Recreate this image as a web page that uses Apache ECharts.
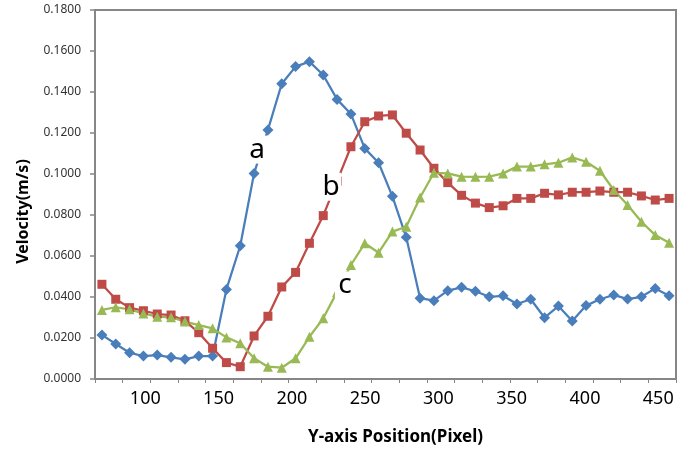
<!DOCTYPE html>
<html>
<head>
<meta charset="utf-8">
<title>Velocity profile</title>
<script src="https://cdn.jsdelivr.net/npm/echarts@6.0.0/dist/echarts.min.js"></script>
<style>
  html, body { margin: 0; padding: 0; background: #fff; }
  #chart { width: 687px; height: 455px; }
</style>
</head>
<body>
<div id="chart"></div>
<script>
// Y-axis positions (pixel) of the sampled points
const positions = [70, 80, 89, 99, 108, 118, 127, 136, 146, 155, 165, 174, 184, 193,
  202, 212, 221, 231, 240, 250, 259, 269, 278, 287, 297, 306, 316, 325,
  335, 344, 353, 363, 372, 382, 391, 401, 410, 419, 429, 438, 448, 457];

// velocity (m/s)
const seriesA = [0.0215, 0.0171, 0.0128, 0.0112, 0.0117, 0.0106, 0.0096, 0.0112, 0.0112, 0.0437,
  0.0650, 0.1003, 0.1215, 0.1440, 0.1524, 0.1548, 0.1483, 0.1364, 0.1293, 0.1125,
  0.1055, 0.0891, 0.0691, 0.0394, 0.0382, 0.0431, 0.0447, 0.0428, 0.0401, 0.0406,
  0.0366, 0.0389, 0.0299, 0.0356, 0.0283, 0.0358, 0.0389, 0.0410, 0.0390, 0.0401,
  0.0442, 0.0406];
const seriesB = [0.0462, 0.0389, 0.0348, 0.0333, 0.0317, 0.0312, 0.0284, 0.0226, 0.0150, 0.0080,
  0.0060, 0.0210, 0.0306, 0.0449, 0.0520, 0.0662, 0.0797, 0.0965, 0.1133, 0.1255,
  0.1283, 0.1288, 0.1199, 0.1117, 0.1028, 0.0958, 0.0896, 0.0858, 0.0836, 0.0845,
  0.0881, 0.0881, 0.0906, 0.0898, 0.0911, 0.0911, 0.0917, 0.0911, 0.0911, 0.0893,
  0.0873, 0.0881];
const seriesC = [0.0337, 0.0350, 0.0340, 0.0320, 0.0304, 0.0301, 0.0280, 0.0263, 0.0247, 0.0203,
  0.0174, 0.0101, 0.0060, 0.0055, 0.0101, 0.0206, 0.0296, 0.0425, 0.0556, 0.0662,
  0.0616, 0.0719, 0.0743, 0.0885, 0.1006, 0.1003, 0.0987, 0.0986, 0.0987, 0.1003,
  0.1036, 0.1036, 0.1047, 0.1055, 0.1081, 0.1060, 0.1016, 0.0922, 0.0849, 0.0767,
  0.0702, 0.0665];

// x tick labels shown under the axis
const xTickLabels = [100, 150, 200, 250, 300, 350, 400, 450];

const axisGray = '#868686';
const font = '"Noto Sans", "DejaVu Sans", sans-serif';

// letter tag drawn on a white box over a line
function tag(text, index, value, dx) {
  return {
    symbol: 'rect',
    symbolSize: [20, 28],
    silent: true,
    data: [{ coord: [index, value], symbolOffset: [dx, 0] }],
    itemStyle: { color: '#fff' },
    label: {
      show: true, position: 'inside', formatter: text,
      color: '#000', fontSize: 28, fontFamily: font
    }
  };
}

function makeSeries(name, data, color, symbol, size, mark) {
  return {
    name: name,
    type: 'line',
    data: data,
    xAxisIndex: 0,
    symbol: symbol,
    symbolSize: size,
    showAllSymbol: true,
    lineStyle: { color: color, width: 2.25 },
    itemStyle: { color: color },
    markPoint: mark,
    animation: false
  };
}

const chart = echarts.init(document.getElementById('chart'));
chart.setOption({
  animation: false,
  grid: {
    left: 95, right: 11, top: 10, bottom: 76,
    show: true, borderColor: axisGray, borderWidth: 2
  },
  xAxis: [{
    type: 'category',
    data: positions,
    boundaryGap: true,
    axisLine: { lineStyle: { color: axisGray, width: 2 } },
    axisTick: { show: true, length: 4, lineStyle: { color: axisGray, width: 1 } },
    axisLabel: { show: false },
    splitLine: { show: false }
  }, {
    type: 'value',
    position: 'bottom',
    min: 65.7,
    max: 462.1,
    splitNumber: 8,
    axisLine: { show: false },
    axisTick: { show: false },
    splitLine: { show: false },
    axisLabel: {
      margin: 11,
      color: '#000', fontSize: 18, fontFamily: font,
      formatter: v => xTickLabels.indexOf(Math.round(v)) >= 0 && Math.abs(v - Math.round(v)) < 1e-6 ? String(Math.round(v)) : ''
    },
    name: 'Y-axis Position(Pixel)',
    nameLocation: 'middle',
    nameGap: 50,
    nameTextStyle: { color: '#000', fontSize: 17, fontWeight: 'bold', fontFamily: font, padding: [0, 0, 0, 20] }
  }],
  yAxis: {
    type: 'value',
    min: 0,
    max: 0.18,
    interval: 0.02,
    axisLine: { show: true, lineStyle: { color: axisGray, width: 2 } },
    axisTick: { show: true, length: 5, lineStyle: { color: axisGray, width: 1.5 } },
    splitLine: { show: false },
    axisLabel: {
      margin: 14, color: '#333', fontSize: 12, fontFamily: font,
      formatter: v => v.toFixed(4)
    },
    name: 'Velocity(m/s)',
    nameLocation: 'middle',
    nameGap: 64,
    nameTextStyle: { color: '#000', fontSize: 16, fontWeight: 'bold', fontFamily: font, padding: [0, 34, 0, 0] }
  },
  series: [
    makeSeries('a', seriesA, '#4a7ebb', 'diamond', 11, tag('a', 11, 0.1119, 3)),
    makeSeries('b', seriesB, '#be4b48', 'rect', 9, tag('b', 17, 0.0938, -6)),
    makeSeries('c', seriesC, '#98b954', 'triangle', 10, tag('c', 18, 0.0456, -6))
  ]
});
</script>
</body>
</html>
